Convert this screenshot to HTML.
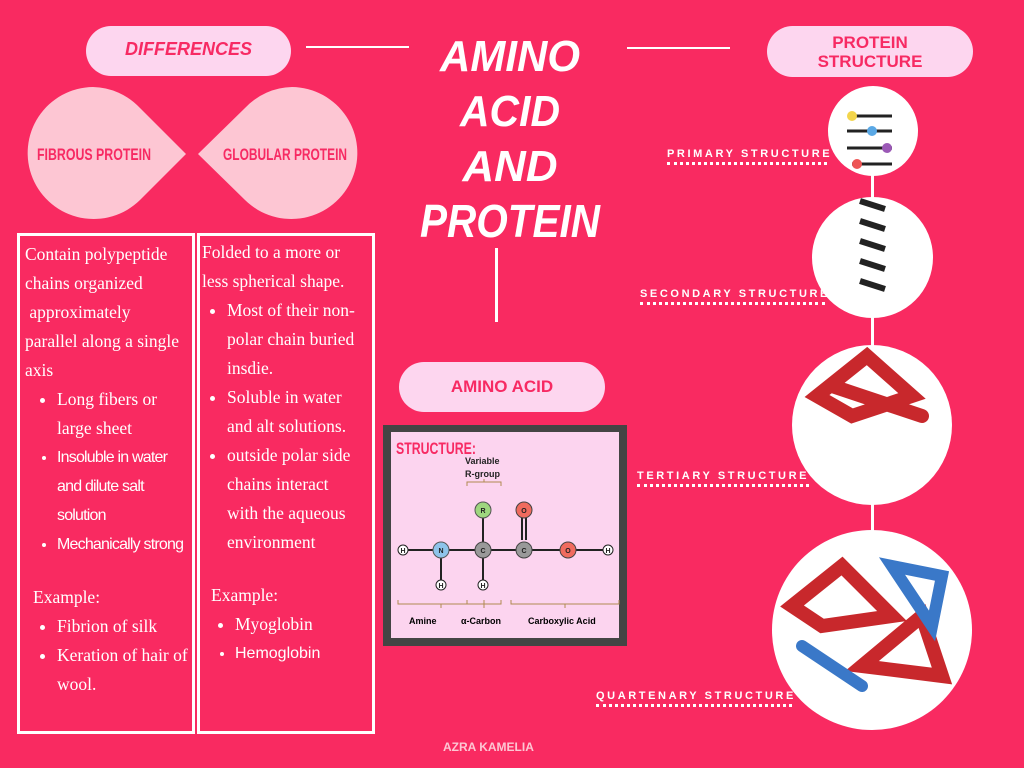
<!DOCTYPE html>
<html><head><meta charset="utf-8"><style>
body{margin:0;width:1024px;height:768px;background:#f92a61;position:relative;overflow:hidden;font-family:"Liberation Sans",sans-serif}
.a{position:absolute}
.pill{position:absolute;background:#fdd6ef;border-radius:26px;color:#f72a63;font-weight:bold;text-align:center;font-family:"Liberation Sans",sans-serif}
.t{position:absolute;color:#fff;font-family:"Liberation Serif",serif;font-size:17.5px;line-height:29px}
.t ul{margin:0;padding-left:32px}
.t li{padding-left:0}
.s{font-family:"Liberation Sans",sans-serif;font-size:16px;letter-spacing:-.8px}
.c{position:absolute;background:#fff;border-radius:50%}
.lab{position:absolute;color:#fff;font-size:11px;letter-spacing:2.6px;font-weight:bold;border-bottom:3px dotted #fff;padding-bottom:2px;white-space:nowrap}
</style></head><body>
<div class="pill" style="left:86px;top:26px;width:205px;height:50px;line-height:46px;font-size:18px;font-style:italic">DIFFERENCES</div>
<div class="pill" style="left:767px;top:26px;width:206px;height:51px;font-size:17px;line-height:19px;padding-top:7px;box-sizing:border-box">PROTEIN<br>STRUCTURE</div>
<div class="a" style="left:306px;top:46px;width:103px;height:2px;background:#fff"></div>
<div class="a" style="left:627px;top:47px;width:103px;height:2px;background:#fff"></div>
<div class="a" style="left:495px;top:248px;width:3px;height:74px;background:#fff"></div>
<svg class="a" style="left:410px;top:25px" width="200" height="230" font-family="Liberation Sans,sans-serif" font-style="italic" font-weight="bold" fill="#fff">
<text x="100" y="46" text-anchor="middle" font-size="44" textLength="140" lengthAdjust="spacingAndGlyphs">AMINO</text>
<text x="100" y="101" text-anchor="middle" font-size="44" textLength="100" lengthAdjust="spacingAndGlyphs">ACID</text>
<text x="100" y="156" text-anchor="middle" font-size="44" textLength="95" lengthAdjust="spacingAndGlyphs">AND</text>
<text x="100" y="212" text-anchor="middle" font-size="46" textLength="180" lengthAdjust="spacingAndGlyphs">PROTEIN</text>
</svg>
<svg class="a" style="left:0;top:0" width="400" height="240">
<path d="M93 87 A66 66 0 1 0 140 200 L186 154 L140 108 A66 66 0 0 0 93 87Z" fill="#fdc6d3"/>
<path d="M292 87 A66 66 0 1 1 245 200 L198 154 L245 108 A66 66 0 0 1 292 87Z" fill="#fdc6d3"/>
<text x="37" y="160" fill="#f72a63" font-size="17" font-weight="bold" textLength="114" lengthAdjust="spacingAndGlyphs" font-family="Liberation Sans,sans-serif">FIBROUS  PROTEIN</text>
<text x="223" y="160" fill="#f72a63" font-size="17" font-weight="bold" textLength="124" lengthAdjust="spacingAndGlyphs" font-family="Liberation Sans,sans-serif">GLOBULAR PROTEIN</text>
</svg>
<div class="a" style="left:17px;top:233px;width:172px;height:495px;border:3px solid #fff"></div>
<div class="a" style="left:197px;top:233px;width:172px;height:495px;border:3px solid #fff"></div>
<div class="t" style="left:25px;top:240px;width:168px">Contain polypeptide chains organized<br>&nbsp;approximately<br>parallel along a single axis
<ul><li>Long fibers or large sheet</li><li class="s" style="width:118px">Insoluble in water and dilute salt solution</li><li class="s" style="white-space:nowrap">Mechanically strong</li></ul>
<div style="margin-top:24px;padding-left:8px">Example:</div>
<ul><li>Fibrion of silk</li><li>Keration of hair of wool.</li></ul></div>
<div class="t" style="left:202px;top:238px;width:162px">Folded to a more or less spherical shape.
<ul style="padding-left:25px"><li>Most of their non-polar chain buried insdie.</li><li>Soluble in water and alt solutions.</li><li>outside polar side chains interact with the aqueous environment</li></ul>
<div style="margin-top:24px;padding-left:9px">Example:</div>
<ul style="padding-left:33px"><li>Myoglobin</li><li class="s" style="letter-spacing:0">Hemoglobin</li></ul></div>
<div class="pill" style="left:399px;top:362px;width:206px;height:50px;line-height:50px;font-size:17px">AMINO ACID</div>
<div class="a" style="left:383px;top:425px;width:244px;height:221px;background:#444"></div>
<div class="a" style="left:391px;top:432px;width:228px;height:206px;background:#fcd4ef"></div>
<svg class="a" style="left:383px;top:400px" width="244" height="246" font-family="Liberation Sans,sans-serif" font-weight="bold">
<text x="13" y="54" fill="#f72a63" font-size="17" textLength="80" lengthAdjust="spacingAndGlyphs">STRUCTURE:</text>
<text x="82" y="64" font-size="9" fill="#222">Variable</text><text x="82" y="77" font-size="9" fill="#222">R-group</text>
<path d="M84 86 v-4 h34 v4 M101 82 v-3" stroke="#b08a50" fill="none"/>
<g stroke="#222" stroke-width="2"><line x1="25" y1="150" x2="225" y2="150"/><line x1="100" y1="110" x2="100" y2="185"/><line x1="58" y1="150" x2="58" y2="185"/><line x1="139" y1="115" x2="139" y2="140"/><line x1="143" y1="115" x2="143" y2="140"/></g>
<g fill="#fff" stroke="#222"><circle cx="20" cy="150" r="5"/><circle cx="225" cy="150" r="5"/><circle cx="58" cy="185" r="5"/><circle cx="100" cy="185" r="5"/></g>
<circle cx="58" cy="150" r="8" fill="#8ec4ea" stroke="#555"/><circle cx="100" cy="150" r="8" fill="#999" stroke="#444"/><circle cx="141" cy="150" r="8" fill="#999" stroke="#444"/>
<circle cx="100" cy="110" r="8" fill="#9ed67e" stroke="#555"/><circle cx="141" cy="110" r="8" fill="#f06b5e" stroke="#444"/><circle cx="185" cy="150" r="8" fill="#f06b5e" stroke="#444"/>
<g font-size="7" text-anchor="middle" fill="#222"><text x="20" y="153">H</text><text x="225" y="153">H</text><text x="58" y="188">H</text><text x="100" y="188">H</text><text x="58" y="153">N</text><text x="100" y="153">C</text><text x="141" y="153">C</text><text x="100" y="113">R</text><text x="141" y="113">O</text><text x="185" y="153">O</text></g>
<path d="M15 200 v4 h86 v-4 M58 204 v4 M84 200 v4 h34 v-4 M101 204 v4 M128 200 v4 h108 v-4 M182 204 v4" stroke="#b08a50" fill="none"/>
<text x="26" y="224" font-size="9">Amine</text><text x="78" y="224" font-size="9">α-Carbon</text><text x="145" y="224" font-size="9">Carboxylic Acid</text>
</svg>
<div class="lab" style="left:667px;top:148px;width:160px">PRIMARY STRUCTURE</div>
<div class="lab" style="left:640px;top:288px;width:185px">SECONDARY STRUCTURE</div>
<div class="lab" style="left:637px;top:470px;width:172px">TERTIARY STRUCTURE</div>
<div class="lab" style="left:596px;top:690px;width:196px">QUARTENARY STRUCTURE</div>
<div class="a" style="left:871px;top:170px;width:3px;height:470px;background:#fff"></div>
<div class="c" style="left:828px;top:86px;width:90px;height:90px"></div>
<div class="c" style="left:812px;top:197px;width:121px;height:121px"></div>
<div class="c" style="left:792px;top:345px;width:160px;height:160px"></div>
<div class="c" style="left:772px;top:530px;width:200px;height:200px"></div>
<svg class="a" style="left:772px;top:86px" width="200" height="650">
<g stroke="#222" stroke-width="3" fill="none"><path d="M80 30 h40 M75 45 h45 M75 62 h45 M80 78 h40"/></g>
<g><circle cx="80" cy="30" r="5" fill="#f3d54c"/><circle cx="100" cy="45" r="5" fill="#5aa8e5"/><circle cx="115" cy="62" r="5" fill="#9b59b6"/><circle cx="85" cy="78" r="5" fill="#e55"/></g>
<g stroke="#222" stroke-width="6"><path d="M88 115 l25 8 M88 135 l25 8 M88 155 l25 8 M88 175 l25 8 M88 195 l25 8"/></g>
<g fill="none" stroke="#c8282c" stroke-width="14" stroke-linecap="round"><path d="M45 310 l50 -40 l45 40 l-60 20 z M60 300 l90 30"/><path d="M20 520 l50 -40 l50 50 l-70 10 z M90 580 l60 -50 l20 60 z"/></g>
<g fill="none" stroke="#3a78c8" stroke-width="12" stroke-linecap="round"><path d="M120 480 l50 10 l-10 50 z M30 560 l60 40"/></g>
</svg>
<div class="a" style="left:443px;top:740px;color:#fdc6d3;font-size:12px;font-weight:bold">AZRA KAMELIA</div>
</body></html>
